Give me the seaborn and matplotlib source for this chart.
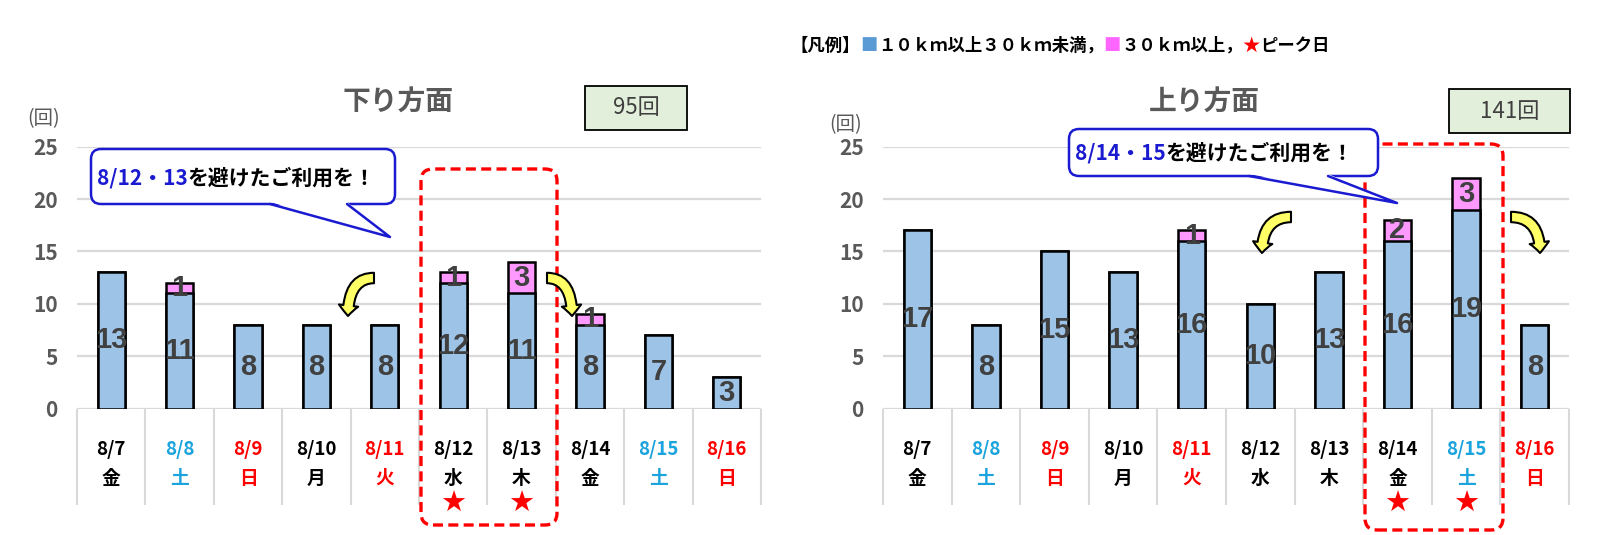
import numpy as np
import pandas as pd
import seaborn as sns
import matplotlib.pyplot as plt
from matplotlib.patches import FancyBboxPatch, FancyArrowPatch, Polygon
from matplotlib.lines import Line2D
from matplotlib.text import Annotation
from matplotlib.transforms import IdentityTransform

# data
dates = ['8/7', '8/8', '8/9', '8/10', '8/11', '8/12', '8/13', '8/14', '8/15', '8/16']
weekdays = ['金', '土', '日', '月', '火', '水', '木', '金', '土', '日']
day_colors = ['black', '#1aa3dc', '#ff0000', 'black', '#ff0000',
              'black', 'black', 'black', '#1aa3dc', '#ff0000']
down_mid = [13, 11, 8, 8, 8, 12, 11, 8, 7, 3]
down_long = [0, 1, 0, 0, 0, 1, 3, 1, 0, 0]
up_mid = [17, 8, 15, 13, 16, 10, 13, 16, 19, 8]
up_long = [0, 0, 0, 0, 1, 0, 0, 2, 3, 0]
down_peaks = ['8/12', '8/13']
up_peaks = ['8/14', '8/15']

BLUE = '#9dc3e6'
PINK = '#ff99ff'
GRAY = '#595959'
W, H = 1600, 535

sns.set_theme(style='white')
plt.rcParams['font.family'] = ['Noto Sans CJK JP', 'DejaVu Sans']

fig = plt.figure(figsize=(16, 5.35), dpi=100)
PX = IdentityTransform()


def py(y):
    # pixel row from top -> display y
    return H - y


def text_chain(x, y, parts, size, zorder=8):
    # one line of text with several colours, pieces placed one after another
    prev = fig.text(x, py(y), parts[0][0], color=parts[0][1], fontsize=size,
                    fontweight='bold', va='center', ha='left', transform=PX, zorder=zorder)
    for s, c in parts[1:]:
        a = Annotation(s, xy=(1, 0.5), xycoords=prev, va='center', ha='left',
                       color=c, fontsize=size, fontweight='bold', annotation_clip=False)
        a.set_zorder(zorder)
        fig.add_artist(a)
        prev = a


def panel(rect, mid, long, peaks):
    ax = fig.add_axes(rect)
    df = pd.DataFrame({'date': dates, 'mid': mid,
                       'total': np.array(mid) + np.array(long)})
    sns.barplot(data=df, x='date', y='total', color=PINK, saturation=1,
                edgecolor='black', linewidth=1.8, width=0.4, ax=ax, zorder=2)
    sns.barplot(data=df, x='date', y='mid', color=BLUE, saturation=1,
                edgecolor='black', linewidth=1.8, width=0.4, ax=ax, zorder=3)
    for i, (m, l) in enumerate(zip(mid, long)):
        ax.text(i, m / 2, str(m), ha='center', va='center', fontsize=21,
                fontweight='bold', color='#404040', family='Liberation Sans', zorder=4)
        if l > 0:
            ax.text(i, m + l / 2, str(l), ha='center', va='center', fontsize=21,
                    fontweight='bold', color='#404040', family='Liberation Sans', zorder=4)
    ax.set_ylim(0, 25)
    ax.set_xlim(-0.5, 9.5)
    ax.set_yticks(range(0, 26, 5))
    ax.yaxis.grid(True, color='#d9d9d9', lw=1.6)
    ax.set_axisbelow(True)
    for s in ax.spines.values():
        s.set_visible(False)
    ax.tick_params(axis='y', length=0, pad=14, labelsize=15, labelcolor=GRAY)
    for lab in ax.get_yticklabels():
        lab.set_fontweight('bold')
    ax.set_xticks([])
    ax.set_xlabel('')
    ax.set_ylabel('')
    # category table under the axis
    ax.vlines(np.arange(-0.5, 10, 1), -9.2, 0, color='#d9d9d9', lw=1.5, clip_on=False)
    for i, (d, wd, c) in enumerate(zip(dates, weekdays, day_colors)):
        ax.text(i, -3.95, d, ha='center', va='center', fontsize=13.5,
                fontweight='bold', color=c, clip_on=False)
        ax.text(i, -6.65, wd, ha='center', va='center', fontsize=13.5,
                fontweight='bold', color=c, clip_on=False)
        if d in peaks:
            ax.text(i, -9.1, '★', ha='center', va='center', fontsize=21,
                    color='#ff0000', family='DejaVu Sans', clip_on=False)
    return ax


axL = panel([77 / W, 1 - 408.5 / H, 684 / W, 261.8 / H], down_mid, down_long, down_peaks)
axR = panel([883 / W, 1 - 408.5 / H, 686 / W, 261.8 / H], up_mid, up_long, up_peaks)

# titles, unit labels, total boxes
for cx, t in [(398, '下り方面'), (1204, '上り方面')]:
    fig.text(cx, py(102), t, ha='center', va='center', fontsize=20,
             fontweight='bold', color=GRAY, transform=PX)
for cx, cy in [(44, 119), (846, 125)]:
    fig.text(cx, py(cy), '(回)', ha='center', va='center', fontsize=14,
             color=GRAY, transform=PX)
for (x0, y0, x1, y1), t in [((585, 86, 687, 130), '95回'), ((1449, 89, 1570, 133), '141回')]:
    fig.add_artist(FancyBboxPatch((x0, py(y1)), x1 - x0, y1 - y0, boxstyle='square,pad=0',
                                  facecolor='#e2efda', edgecolor='black', lw=1.3,
                                  transform=PX))
    fig.text((x0 + x1) / 2, py((y0 + y1) / 2), t, ha='center', va='center',
             fontsize=16, color='#404040', transform=PX)

# dashed peak frames
for x0, x1, y0, y1 in [(421, 557, 169, 525), (1365, 1503, 144, 530)]:
    fig.add_artist(FancyBboxPatch((x0, py(y1)), x1 - x0, y1 - y0,
                                  boxstyle='round,pad=0,rounding_size=12', fill=False,
                                  edgecolor='#ff0000', lw=2.4, linestyle=(0, (3, 1.6)),
                                  transform=PX, zorder=5))

# callouts
CB = '#1a1ad0'
for (x0, y0, x1, y1), (b1, b2, tx, ty), (lx, ly), blue_part in [
        ((91, 149, 395, 204), (270, 347, 390, 237), (97, 178), '8/12・13'),
        ((1069, 129, 1378, 176), (1249, 1328, 1397, 203), (1075, 153), '8/14・15')]:
    fig.add_artist(FancyBboxPatch((x0, py(y1)), x1 - x0, y1 - y0,
                                  boxstyle='round,pad=0,rounding_size=10',
                                  facecolor='white', edgecolor=CB, lw=1.8,
                                  transform=PX, zorder=6))
    fig.add_artist(Polygon([(b1, py(y1) + 2), (tx, py(ty)), (b2, py(y1) + 2)],
                           closed=True, facecolor='white', edgecolor='none',
                           transform=PX, zorder=7))
    fig.add_artist(Line2D([b1, tx, b2], [py(y1), py(ty), py(y1)], color=CB, lw=1.8,
                          transform=PX, zorder=7))
    text_chain(lx, ly, [(blue_part, CB), ('を避けたご利用を！', 'black')], 15)

# yellow turn arrows
for (xa, ya), (xb, yb) in [((374, 278), (348, 316)), ((547, 278), (572, 316)),
                           ((1291, 217), (1262, 253)), ((1511, 217), (1540, 253))]:
    fig.add_artist(FancyArrowPatch((xa, py(ya)), (xb, py(yb)), transform=PX,
                                   connectionstyle='angle3,angleA=0,angleB=90',
                                   arrowstyle='simple,head_length=7.5,head_width=14,tail_width=7.5',
                                   mutation_scale=1, shrinkA=0, shrinkB=0,
                                   facecolor='#ffff66', edgecolor='black', lw=1.5, zorder=5))

# legend line
text_chain(791, 46, [('【凡例】', 'black'), ('■', '#5b9bd5'),
                     ('１０ｋｍ以上３０ｋｍ未満，', 'black'), ('■', '#ff66ff'),
                     ('３０ｋｍ以上，', 'black'), ('★', '#ff0000'), ('ピーク日', 'black')], 12.5)

fig.savefig('out.png', dpi=100)
